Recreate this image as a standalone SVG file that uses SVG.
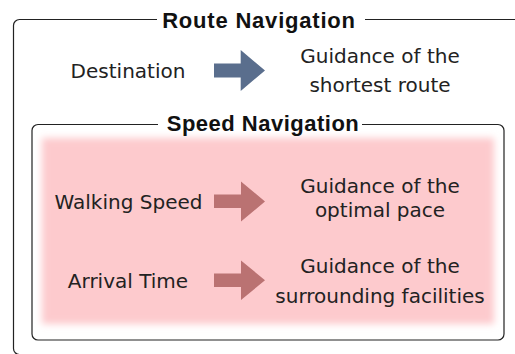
<svg xmlns="http://www.w3.org/2000/svg" width="515" height="354" viewBox="0 0 515 354">
<style>
.t{font-family:"DejaVu Sans","Liberation Sans",sans-serif;font-size:20px;fill:#222;}
.c{text-anchor:middle;}
.h{font-family:"Liberation Sans",Arial,sans-serif;font-size:22px;font-weight:bold;letter-spacing:0.8px;fill:#111;text-anchor:middle;}
.frame{fill:none;stroke:#222;stroke-width:1.2;}
.blue{fill:#5a6e8d;}
.red{fill:#ba7272;}
</style>
<defs>
<filter id="blur" x="-10%" y="-10%" width="120%" height="120%"><feGaussianBlur stdDeviation="3.5"/></filter>
</defs>
<rect width="515" height="354" fill="#fff"/>
<g id="route-navigation">
<path class="frame" d="M157,19.5 H19.5 A6,6 0 0 0 13.5,25.5 V348.5 A6,6 0 0 0 19.5,354.5"/>
<path class="frame" d="M365,19.5 H516"/>
<text class="h" x="259" y="27.5">Route Navigation</text>
</g>
<g id="speed-navigation">
<rect x="42" y="138" width="452" height="186" fill="#fdcacd" filter="url(#blur)"/>
<path class="frame" d="M158,124.5 H38 A6,6 0 0 0 32,130.5 V334 A6,6 0 0 0 38,340 H498 A6,6 0 0 0 504,334 V130.5 A6,6 0 0 0 498,124.5 H362"/>
<text class="h" x="263" y="131" style="letter-spacing:0.5px">Speed Navigation</text>
</g>
<g id="destination"><text class="t c" x="128" y="77.5">Destination</text></g>
<g id="shortest-route"><text class="t c" x="380" y="63">Guidance of the</text><text class="t c" x="380" y="92">shortest route</text></g>
<g id="walking-speed"><text class="t c" x="128.5" y="209">Walking Speed</text></g>
<g id="optimal-pace"><text class="t c" x="380" y="192.5">Guidance of the</text><text class="t c" x="380" y="217">optimal pace</text></g>
<g id="arrival-time"><text class="t c" x="128" y="288">Arrival Time</text></g>
<g id="surrounding-facilities"><text class="t c" x="380" y="273">Guidance of the</text><text class="t c" x="380" y="302.5">surrounding facilities</text></g>
<g id="connectors">
<path class="blue" d="M214,63.5 H240.7 V50 L265,70.5 L240.7,91 V77.5 H214 Z"/>
<path class="red" d="M214,194.5 H241 V181.5 L265,201.5 L241,221.5 V208 H214 Z"/>
<path class="red" d="M214,273.5 H241 V260.5 L265,280.3 L241,300 V287 H214 Z"/>
</g>
</svg>
